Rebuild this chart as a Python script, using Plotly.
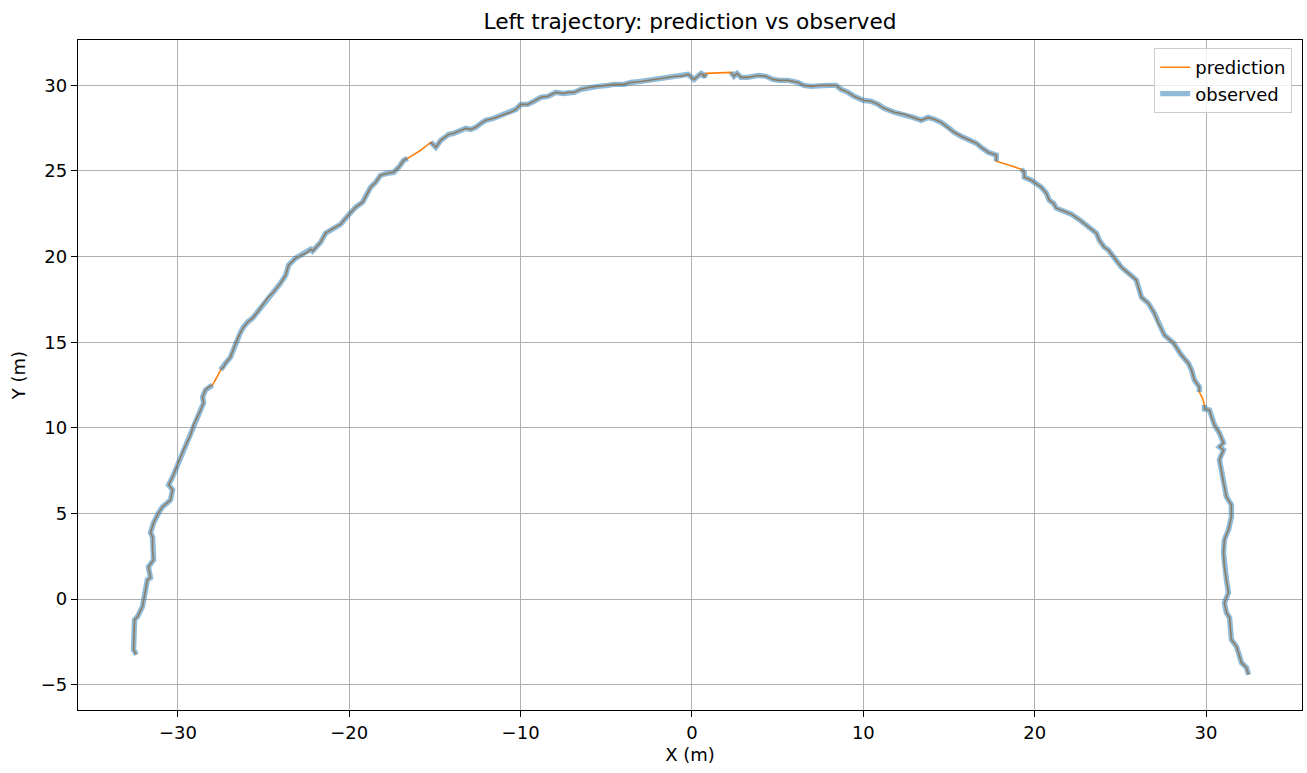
import plotly.graph_objects as go

# Observed segments (continuous runs of observed data), in metres
seg1_x = [-32.42, -32.59, -32.53, -32.36, -32.07, -31.89, -31.78, -31.60, -31.72, -31.42,
          -31.48, -31.48, -31.60, -31.42, -31.13, -30.90, -30.61, -30.43, -30.31, -30.54,
          -30.31, -29.96, -29.67, -29.26, -29.09, -28.80, -28.50, -28.56, -28.39, -28.21, -27.98]
seg1_y = [-3.25, -2.96, -1.21, -1.03, -0.45, 0.54, 1.13, 1.25, 1.88, 2.29,
          2.88, 3.63, 3.87, 4.45, 5.03, 5.38, 5.62, 5.79, 6.38, 6.67,
          7.13, 8.01, 8.71, 9.58, 10.17, 10.75, 11.45, 11.80, 12.21, 12.38, 12.50]

seg2_x = [-27.51, -27.34, -27.22, -26.93, -26.63, -26.34, -26.17, -25.93, -25.64, -25.35,
          -25.06, -24.77, -24.42, -24.01, -23.71, -23.54, -23.13, -22.72, -22.43, -22.25,
          -22.14, -21.67, -21.38, -20.91, -20.50, -20.21, -19.92, -19.63, -19.22, -18.92,
          -18.75, -18.46, -18.17, -17.76, -17.41, -17.11, -16.82, -16.59]
seg2_y = [13.38, 13.55, 13.78, 14.13, 14.95, 15.59, 15.88, 16.18, 16.41, 16.76,
          17.17, 17.58, 17.93, 18.45, 18.92, 19.50, 19.91, 20.14, 20.26, 20.43,
          20.32, 20.84, 21.37, 21.66, 21.89, 22.24, 22.59, 22.88, 23.18, 23.70,
          24.05, 24.34, 24.75, 24.87, 24.92, 25.22, 25.63, 25.74]

seg3_x = [-15.24, -14.95, -14.66, -14.43, -14.19, -13.90, -13.49, -13.20, -12.91, -12.62,
          -12.32, -12.03, -11.57, -11.27, -10.86, -10.46, -10.28, -9.99, -9.58, -9.23,
          -8.82, -8.41, -7.94, -7.53, -7.24, -6.89, -6.48, -6.02, -5.49, -4.91,
          -4.56, -3.97, -3.56, -2.98, -2.57, -2.22, -1.81, -1.23, -0.93, -0.64,
          -0.23, 0.12, 0.35, 0.53, 0.64, 0.70, 0.82]
seg3_y = [26.68, 26.38, 26.79, 26.97, 27.14, 27.20, 27.38, 27.49, 27.43, 27.55,
          27.78, 27.96, 28.08, 28.19, 28.37, 28.48, 28.60, 28.89, 28.89, 29.07,
          29.30, 29.36, 29.59, 29.53, 29.59, 29.59, 29.77, 29.88, 29.94, 30.00,
          30.06, 30.06, 30.17, 30.23, 30.29, 30.35, 30.41, 30.47, 30.53, 30.53,
          30.64, 30.35, 30.58, 30.70, 30.64, 30.47, 30.70]

seg4_x = [2.28, 2.45, 2.63, 2.86, 3.27, 3.86, 4.32, 4.73, 5.08, 5.61,
          6.19, 6.54, 6.95, 7.42, 7.94, 8.41, 8.70, 9.11, 9.46, 9.99,
          10.46, 10.86, 11.21, 11.80, 12.38, 12.91, 13.38, 13.78, 14.14, 14.54,
          14.95, 15.30, 15.71, 16.12, 16.59, 16.88, 17.29, 17.76, 17.76]
seg4_y = [30.76, 30.53, 30.70, 30.47, 30.47, 30.58, 30.53, 30.35, 30.29, 30.29,
          30.17, 30.00, 29.94, 30.00, 30.00, 30.00, 29.77, 29.59, 29.36, 29.13,
          29.07, 28.89, 28.66, 28.43, 28.31, 28.13, 27.96, 28.13, 28.02, 27.84,
          27.55, 27.26, 27.03, 26.85, 26.62, 26.38, 26.09, 25.92, 25.57]

seg5_x = [19.22, 19.39, 19.39, 19.80, 20.39, 20.68, 20.85, 21.09, 21.26, 21.73,
          22.14, 22.72, 23.13, 23.60, 23.77, 24.06, 24.30, 24.65, 25.06, 25.53,
          25.93, 26.23, 26.63, 26.98, 27.22, 27.57, 28.10, 28.56, 28.97, 29.15,
          29.32, 29.61, 29.61]
seg5_y = [25.10, 24.92, 24.63, 24.46, 24.05, 23.70, 23.29, 23.12, 22.83, 22.65,
          22.48, 22.07, 21.72, 21.37, 20.96, 20.55, 20.38, 19.91, 19.38, 18.98,
          18.63, 17.63, 17.28, 16.70, 16.12, 15.42, 14.95, 14.25, 13.78, 13.38,
          12.79, 12.38, 12.09]

seg6_x = [29.91, 29.91, 30.20, 30.31, 30.49, 30.78, 31.02, 30.78, 31.02, 30.78,
          30.90, 31.07, 31.19, 31.48, 31.48, 31.31, 31.07, 31.02, 31.07, 31.19,
          31.31, 31.07, 31.19, 31.37, 31.48, 31.78, 31.89, 32.07, 32.36, 32.48]
seg6_y = [11.33, 11.10, 11.04, 10.63, 10.17, 9.70, 9.12, 8.88, 8.71, 8.13,
          7.37, 6.55, 5.97, 5.50, 4.80, 4.04, 3.46, 2.70, 1.88, 1.13,
          0.37, -0.22, -0.80, -1.09, -2.37, -2.78, -3.13, -3.72, -4.01, -4.42]

# Prediction-only points filling the gaps between observed segments
gap_x = [-27.75, -15.83, 1.52, 18.52, 29.79]
gap_y = [12.91, 26.21, 30.72, 25.33, 11.74]

segments_x = [seg1_x, seg2_x, seg3_x, seg4_x, seg5_x, seg6_x]
segments_y = [seg1_y, seg2_y, seg3_y, seg4_y, seg5_y, seg6_y]

x_ticks = [-30, -20, -10, 0, 10, 20, 30]
y_ticks = [-5, 0, 5, 10, 15, 20, 25, 30]

pred_x, pred_y, obs_x, obs_y = [], [], [], []
for i, (sx, sy) in enumerate(zip(segments_x, segments_y)):
    pred_x += sx
    pred_y += sy
    obs_x += sx
    obs_y += sy
    if i < len(gap_x):
        pred_x.append(gap_x[i])
        pred_y.append(gap_y[i])
        obs_x.append(None)
        obs_y.append(None)

FONT = "DejaVu Sans"

fig = go.Figure()
fig.add_trace(go.Scatter(
    x=pred_x, y=pred_y, mode="lines", name="prediction",
    line=dict(color="#ff7f0e", width=1.6),
))
fig.add_trace(go.Scatter(
    x=obs_x, y=obs_y, mode="lines", name="observed",
    line=dict(color="rgba(31,119,180,0.5)", width=5.4),
    connectgaps=False,
))

axis_common = dict(
    showline=True, linecolor="black", linewidth=1.4, mirror=True,
    ticks="outside", ticklen=6, tickwidth=1.4, tickcolor="black",
    showgrid=True, gridcolor="#b0b0b0", gridwidth=1.3,
    zeroline=False,
    tickfont=dict(family=FONT, size=18, color="black"),
    title_font=dict(family=FONT, size=18, color="black"),
)

fig.update_layout(
    width=1307, height=773,
    margin=dict(l=78, r=5, t=40, b=63),
    paper_bgcolor="white", plot_bgcolor="white",
    font=dict(family=FONT, size=18, color="black"),
    title=dict(text="Left trajectory: prediction vs observed",
               x=0.5, xref="paper", xanchor="center",
               y=1 - 21 / 773, yref="container", yanchor="middle",
               font=dict(family=FONT, size=21.7, color="black")),
    xaxis=dict(range=[-35.83, 35.6], tickvals=x_ticks,
               title=dict(text="X (m)", standoff=6), **axis_common),
    yaxis=dict(range=[-6.48, 32.65], tickvals=y_ticks,
               title=dict(text="Y (m)", standoff=10), **axis_common),
    legend=dict(x=0.992, xanchor="right", y=0.988, yanchor="top",
                bgcolor="rgba(255,255,255,0.8)", bordercolor="#cccccc",
                borderwidth=1, font=dict(family=FONT, size=18, color="black")),
    showlegend=True,
)

fig.write_html("out.html")
